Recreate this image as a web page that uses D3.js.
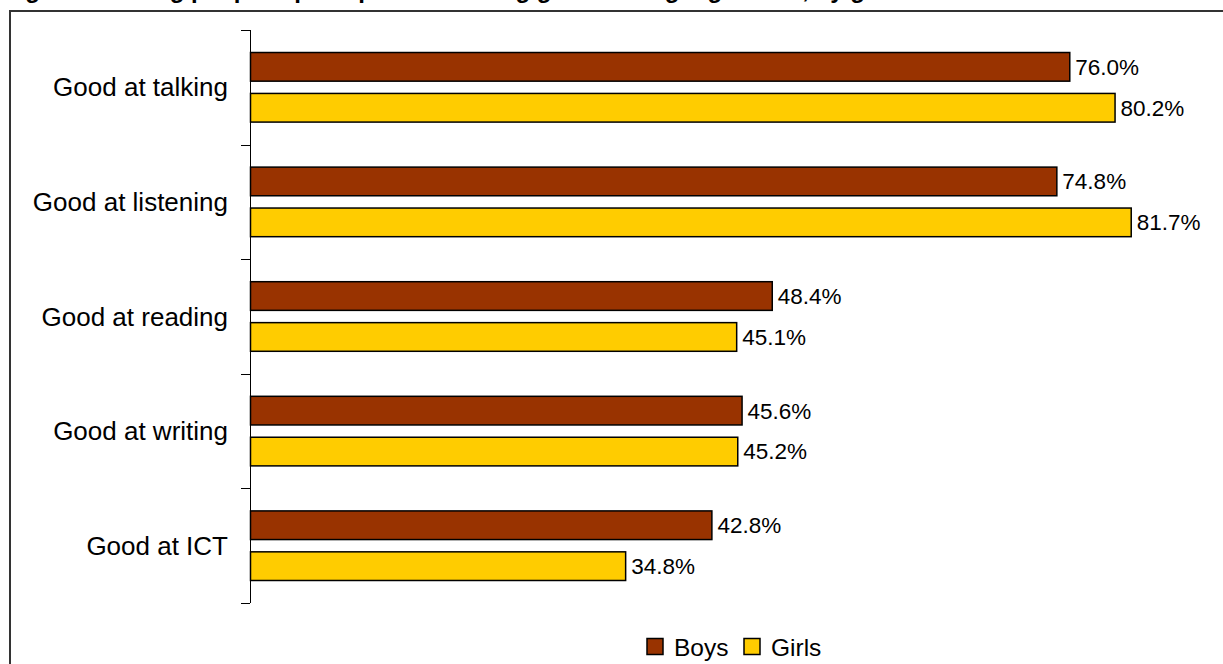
<!DOCTYPE html>
<html>
<head>
<meta charset="utf-8">
<script src="https://cdn.jsdelivr.net/npm/d3@7"></script>
<style>
  html, body { margin: 0; padding: 0; background: #fff; }
  svg { display: block; font-family: "Liberation Sans", Arial, sans-serif; }
</style>
</head>
<body>
<svg id="chart" width="1223" height="664"></svg>
<script>
// Self-rated skills, share of pupils by gender
const categories = ["Good at talking", "Good at listening", "Good at reading", "Good at writing", "Good at ICT"];
const boys  = [76.0, 74.8, 48.4, 45.6, 42.8];
const girls = [80.2, 81.7, 45.1, 45.2, 34.8];
const seriesNames = ["Boys", "Girls"];
const title = "Figure 3: Young people's perceptions of being good at language skills, by gender";

const colors = { Boys: "#993300", Girls: "#FFCC00" };

const svg = d3.select("#chart");
const W = 1223, H = 664;

// Title sits above the chart frame, running off the top edge
svg.append("text")
  .attr("x", 4).attr("y", -2)
  .attr("font-size", 24).attr("font-weight", "bold")
  .attr("fill", "#000")
  .text(title);

// Chart frame
svg.append("path")
  .attr("d", `M10,${H + 5} V11 H${W + 5}`)
  .attr("fill", "none").attr("stroke", "#333").attr("stroke-width", 2);

const plotTop = 30, plotBottom = 603, x0 = 250;

const y = d3.scaleBand().domain(categories).range([plotTop, plotBottom]).paddingInner(0).paddingOuter(0);
const x = d3.scaleLinear().domain([0, 100]).range([x0, x0 + 1078]);

const inner = d3.scaleBand().domain(seriesNames)
  .range([0, y.bandwidth()]).paddingInner(0.3).paddingOuter(0.55);

// Category axis with tick marks at band boundaries
const axisG = svg.append("g");
axisG.append("line")
  .attr("x1", x0 + 0.5).attr("x2", x0 + 0.5)
  .attr("y1", plotTop).attr("y2", plotBottom)
  .attr("stroke", "#000").attr("stroke-width", 1);
const boundaries = categories.map(c => y(c)).concat([plotBottom]);
axisG.selectAll("line.tick").data(boundaries).join("line")
  .attr("class", "tick")
  .attr("x1", x0 - 9).attr("x2", x0)
  .attr("y1", d => Math.round(d) + 0.5).attr("y2", d => Math.round(d) + 0.5)
  .attr("stroke", "#000").attr("stroke-width", 1);
axisG.selectAll("text").data(categories).join("text")
  .attr("x", 228)
  .attr("y", d => y(d) + y.bandwidth() / 2)
  .attr("dy", "0.35em")
  .attr("text-anchor", "end")
  .attr("font-size", 26)
  .attr("fill", "#000")
  .text(d => d);

// Bars
const rows = categories.flatMap((c, i) => [
  { cat: c, series: "Boys", value: boys[i] },
  { cat: c, series: "Girls", value: girls[i] }
]);

svg.append("g").selectAll("rect").data(rows).join("rect")
  .attr("x", x(0) + 0.5)
  .attr("y", d => y(d.cat) + inner(d.series))
  .attr("width", d => x(d.value) - x(0))
  .attr("height", inner.bandwidth())
  .attr("fill", d => colors[d.series])
  .attr("stroke", "#000").attr("stroke-width", 1.5);

// Value labels
svg.append("g").selectAll("text").data(rows).join("text")
  .attr("x", d => x(d.value) + 6)
  .attr("y", d => y(d.cat) + inner(d.series) + inner.bandwidth() / 2)
  .attr("dy", "0.35em")
  .attr("font-size", 22.5)
  .attr("fill", "#000")
  .text(d => d.value.toFixed(1) + "%");

// Legend
const legend = svg.append("g");
const legendItems = [
  { name: "Boys", x: 647 },
  { name: "Girls", x: 744 }
];
legendItems.forEach(it => {
  legend.append("rect")
    .attr("x", it.x).attr("y", 638.5)
    .attr("width", 16).attr("height", 16)
    .attr("fill", colors[it.name]).attr("stroke", "#000").attr("stroke-width", 1.5);
  legend.append("text")
    .attr("x", it.x + 27).attr("y", 656)
    .attr("font-size", 24.5).attr("fill", "#000")
    .text(it.name);
});
</script>
</body>
</html>
